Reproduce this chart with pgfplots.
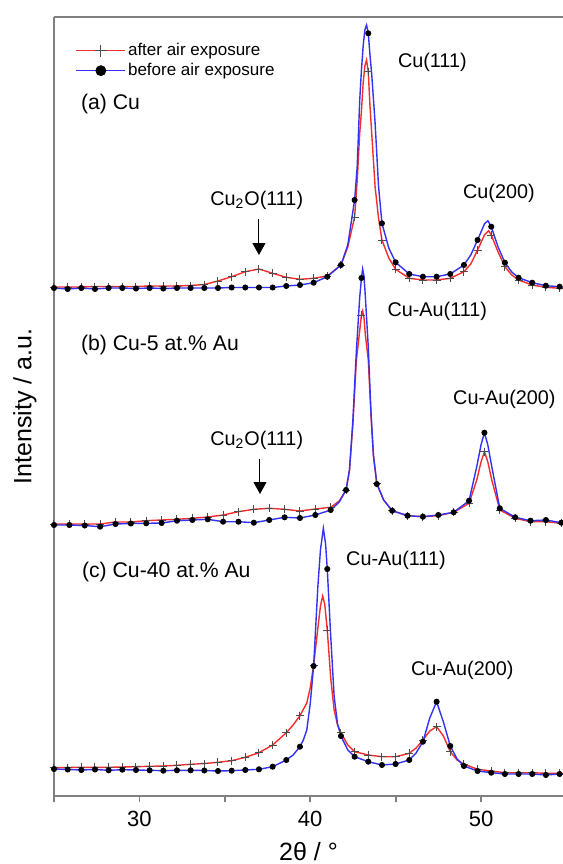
\documentclass[border=0pt]{standalone}
\usepackage{fontspec}
\setmainfont{Liberation Sans}
\usepackage{pgfplots}
\pgfplotsset{compat=1.18}
\usepackage{pgfplotstable}
\usetikzlibrary{arrows.meta}

\definecolor{cRed}{RGB}{245,45,45}
\definecolor{cBlue}{RGB}{50,50,245}
\definecolor{cAxis}{RGB}{128,128,128}

% (a) Cu, marks every 0.8 deg
\pgfplotstableread{
x y m
25.0 509 1
25.8 509 1
26.6 509 1
27.4 509.5 1
28.2 509.5 1
29.0 509.5 1
29.8 509.5 1
30.6 510 1
31.4 510 1
32.2 510 1
33.0 510.5 1
33.8 511.5 1
34.6 515 1
35.4 519.3 1
36.2 524.3 1
37.0 527 1
37.8 522.7 1
38.6 518.7 1
39.4 516.7 1
40.2 517.7 1
41.0 520 1
41.8 531 1
42.2 549 0
42.6 579 1
42.75 615 0
42.9 663 0
43.0 685 0
43.1 713 0
43.2 730 0
43.3 736 0
43.4 724 1
43.5 690 0
43.6 663 0
43.8 609 0
44.0 578 0
44.2 556 1
44.6 538 0
45.0 526.7 1
45.8 517.7 1
46.6 516 1
47.4 516 1
48.2 517.7 1
49.0 524.3 1
49.4 532 0
49.8 546 1
50.2 561 0
50.45 565.3 0
50.6 561 1
51.0 544 0
51.4 529.3 1
51.8 521 0
52.2 516 1
53.0 511 1
53.8 508.7 1
54.6 507.7 1
54.8 507.7 0
}\redA
\pgfplotstableread{
x y m
25.0 508 1
25.8 507 1
26.6 508 1
27.4 507 1
28.2 508 1
29.0 508 1
29.8 507.5 1
30.6 508 1
31.4 507.5 1
32.2 508 1
33.0 508 1
33.8 508 1
34.6 508 1
35.4 508.5 1
36.2 508.5 1
37.0 508.5 1
37.8 508.5 1
38.6 510 1
39.4 511 1
40.2 513.3 1
41.0 519.3 1
41.8 531 1
42.2 551 0
42.6 596 1
42.75 629 0
42.9 696 0
43.0 726 0
43.1 750 0
43.2 766 0
43.3 771 0
43.4 762.7 1
43.5 741 0
43.6 722 0
43.8 673 0
44.0 610 0
44.2 572.7 1
44.6 548 0
45.0 533.7 1
45.8 522 1
46.6 519.3 1
47.4 519.3 1
48.2 522 1
49.0 531 1
49.4 541 0
49.8 556 1
50.2 572 0
50.4 575.3 0
50.6 569.3 1
51.0 549 0
51.4 533.3 1
51.8 524 0
52.2 518.3 1
53.0 513.3 1
53.8 510.3 1
54.6 509.3 1
54.8 509 0
}\blueA

% (b) Cu-5 at.% Au, marks every 0.9 deg
\pgfplotstableread{
x y m
25.0 272 1
25.9 272 1
26.8 272 1
27.7 272 1
28.6 274 1
29.5 274 1
30.4 275.3 1
31.3 276 1
32.2 276.7 1
33.1 277.7 1
34.0 279 1
34.9 281 1
35.8 284.3 1
36.7 286.7 1
37.6 287.7 1
38.5 286.7 1
39.4 285 1
40.3 287 1
41.2 288.7 1
41.7 295 0
42.1 306 1
42.3 326 0
42.5 372 0
42.7 435 0
42.9 466 0
43.0 481 1
43.07 485 0
43.15 478 0
43.23 461 0
43.4 436 0
43.56 381 0
43.7 341 0
43.9 312.7 1
44.3 296 0
44.8 285.3 1
45.7 280.3 1
46.6 279.3 1
47.5 280.3 1
48.4 283.7 1
49.3 292.7 1
49.75 316 0
50.0 334 0
50.2 344.3 1
50.4 334 0
50.63 316 0
51.1 286 1
52.0 277.7 1
52.9 274.3 1
53.8 274.3 1
54.7 272.7 1
54.8 272.7 0
}\redB
\pgfplotstableread{
x y m
25.0 271 1
25.9 271 1
26.8 270.5 1
27.7 269.3 1
28.6 272 1
29.5 272.5 1
30.4 272.7 1
31.3 273 1
32.2 275.3 1
33.1 276 1
34.0 276.7 1
34.9 274.3 1
35.8 274.3 1
36.7 273.3 1
37.6 276 1
38.5 278.7 1
39.4 278 1
40.3 281 1
41.2 286 1
41.7 294 0
42.1 306 1
42.3 326 0
42.5 376 0
42.7 444 0
42.9 499 0
43.0 518 1
43.07 527 0
43.15 520 0
43.23 499 0
43.4 449 0
43.56 383 0
43.7 341 0
43.9 312 1
44.3 296 0
44.8 285.3 1
45.7 280.3 1
46.6 279.3 1
47.5 281 1
48.4 283.7 1
49.3 295.3 1
49.75 329.3 0
50.0 351 0
50.2 363.3 1
50.4 351 0
50.63 329.3 0
51.1 287.7 1
52.0 278.7 1
52.9 275.3 1
53.8 276 1
54.7 273.3 1
54.8 273.3 0
}\blueB

% (c) Cu-40 at.% Au, marks every 0.8 deg
\pgfplotstableread{
x y m
25.0 28.3 1
25.8 28.5 1
26.6 28.7 1
27.4 28.7 1
28.2 28.7 1
29.0 29 1
29.8 29.3 1
30.6 29.7 1
31.4 30 1
32.2 30.7 1
33.0 31.7 1
33.8 32.5 1
34.6 33.7 1
35.4 35.3 1
36.2 38.7 1
37.0 43.3 1
37.8 51 1
38.6 63.3 1
39.0 71 0
39.4 80.3 1
39.8 93 0
40.0 108 0
40.2 131 1
40.45 168 0
40.6 190 0
40.73 200 0
40.85 192 0
41.0 166 1
41.2 118 0
41.4 86 0
41.6 71 0
41.8 63.3 1
42.2 51 0
42.6 44.3 1
43.4 41 1
44.2 39.3 1
45.0 39.3 1
45.8 42.7 1
46.2 48 0
46.6 56 1
47.0 65 0
47.4 69.3 1
47.8 60 0
48.2 44.3 1
48.6 36 0
49.0 32 1
49.8 26.7 1
50.6 25 1
51.4 23.3 1
52.2 23.3 1
53.0 23.3 1
53.8 22.7 1
54.6 22.7 1
54.8 22.7 0
}\redC
\pgfplotstableread{
x y m
25.0 27 1
25.8 26.5 1
26.6 26 1
27.4 26.5 1
28.2 25.7 1
29.0 26.3 1
29.8 26 1
30.6 25.7 1
31.4 25.3 1
32.2 25.7 1
33.0 25.7 1
33.8 25.5 1
34.6 25 1
35.4 25.3 1
36.2 26 1
37.0 26.7 1
37.8 29.3 1
38.6 36 1
39.0 41 0
39.4 49.3 1
39.6 56 0
39.8 66 0
40.0 92 0
40.2 130 1
40.45 210 0
40.6 246 0
40.77 267.7 0
40.9 252 0
41.0 227 1
41.2 160 0
41.4 100 0
41.6 72 0
41.8 60 1
42.2 46 0
42.6 39.3 1
43.4 34.3 1
44.2 31 1
45.0 32 1
45.8 36 1
46.2 43 0
46.6 54.3 1
47.0 78 0
47.4 94.3 1
47.8 74 0
48.2 50 1
48.6 37 0
49.0 30 1
49.8 25 1
50.6 23.3 1
51.4 22 1
52.2 22 1
53.0 22 1
53.8 21 1
54.6 22 1
54.8 22 0
}\blueC

\pgfplotsset{
  afterline/.style={cRed, line width=0.7pt, forget plot},
  beforeline/.style={cBlue, line width=0.7pt, forget plot},
  aftermarks/.style={only marks, mark=+, mark size=2pt, black!70, mark options={line width=0.5pt}, forget plot},
  beforemarks/.style={only marks, mark=*, mark size=1.3pt, black, forget plot},
}

\begin{document}
\begin{tikzpicture}
\begin{axis}[
    scale only axis,
    width=254.5pt, height=389.5pt,
    xmin=25, xmax=54.8,
    ymin=0, ymax=779,
    separate axis lines,
    axis x line=box,
    axis y line=left,
    axis line style={cAxis, line width=0.9pt, -},
    ytick=\empty,
    xtick={30,40,50},
    minor xtick={25,35,45},
    xtick pos=bottom,
    tick align=outside,
    major tick length=3pt,
    minor tick length=3pt,
    tick style={cAxis, line width=0.9pt},
    /pgf/number format/assume math mode=true,
    xticklabel style={font=\fontsize{11}{13}\selectfont, yshift=-1pt},
    xlabel={2θ / °},
    ylabel={Intensity / a.u.},
    every axis x label/.style={at={(axis description cs:0.5,-0.0719)}, anchor=center, font=\fontsize{12.5}{15}\selectfont},
    every axis y label/.style={at={(axis description cs:-0.057,0.5)}, anchor=center, rotate=90, font=\fontsize{12.5}{15}\selectfont},
    legend style={draw=none, fill=none, at={(axis description cs:0.03,0.975)}, anchor=north west,
        font=\fontsize{8.5}{10}\selectfont, nodes={inner sep=1pt}, row sep=0.4pt,
        /tikz/every even column/.append style={column sep=1pt}},
    legend cell align=left,
    clip=false,
]
\addlegendimage{legend image code/.code={
    \draw[cRed, line width=0.7pt] (0pt,0pt) -- (24.5pt,0pt);
    \draw[black!70, line width=0.5pt] plot[mark=+, mark size=3pt] coordinates {(12.25pt,0pt)};}}
\addlegendentry{after air exposure}
\addlegendimage{legend image code/.code={
    \draw[cBlue, line width=0.7pt] (0pt,0pt) -- (24.5pt,0pt);
    \fill[black] plot[mark=*, mark size=2.5pt] coordinates {(12.25pt,0pt)};}}
\addlegendentry{before air exposure}

\addplot[afterline] table[x=x, y=y] {\redA};
\addplot[beforeline] table[x=x, y=y] {\blueA};
\addplot[afterline] table[x=x, y=y] {\redB};
\addplot[beforeline] table[x=x, y=y] {\blueB};
\addplot[afterline] table[x=x, y=y] {\redC};
\addplot[beforeline] table[x=x, y=y] {\blueC};

\addplot[aftermarks, restrict expr to domain={\thisrow{m}}{0.5:1.5}] table[x=x, y=y] {\redA};
\addplot[beforemarks, restrict expr to domain={\thisrow{m}}{0.5:1.5}] table[x=x, y=y] {\blueA};
\addplot[aftermarks, restrict expr to domain={\thisrow{m}}{0.5:1.5}] table[x=x, y=y] {\redB};
\addplot[beforemarks, restrict expr to domain={\thisrow{m}}{0.5:1.5}] table[x=x, y=y] {\blueB};
\addplot[aftermarks, restrict expr to domain={\thisrow{m}}{0.5:1.5}] table[x=x, y=y] {\redC};
\addplot[beforemarks, restrict expr to domain={\thisrow{m}}{0.5:1.5}] table[x=x, y=y] {\blueC};

% panel labels
\node[anchor=west, font=\fontsize{10.6}{12}\selectfont] at (axis cs:26.17,692) {(a) Cu};
\node[anchor=west, font=\fontsize{10.6}{12}\selectfont] at (axis cs:26.17,451) {(b) Cu-5 at.\% Au};
\node[anchor=west, font=\fontsize{10.6}{12}\selectfont] at (axis cs:26.23,224) {(c) Cu-40 at.\% Au};

% peak labels
\begin{scope}[every node/.style={font=\fontsize{9.9}{12}\selectfont}]
\node at (axis cs:47.15,734) {Cu(111)};
\node at (axis cs:51.05,603) {Cu(200)};
\node at (axis cs:36.87,596) {Cu\textsubscript{2}O(111)};
\node at (axis cs:47.44,485) {Cu-Au(111)};
\node at (axis cs:51.37,397) {Cu-Au(200)};
\node at (axis cs:36.87,356) {Cu\textsubscript{2}O(111)};
\node at (axis cs:45.02,236) {Cu-Au(111)};
\node at (axis cs:48.90,126) {Cu-Au(200)};
\end{scope}
\draw[black, line width=0.5pt, -{Triangle[width=6.5pt,length=6pt]}] (axis cs:37.0,577) -- (axis cs:37.0,541);
\draw[black, line width=0.5pt, -{Triangle[width=6.5pt,length=6pt]}] (axis cs:37.06,337) -- (axis cs:37.06,302);
\end{axis}
\pgfresetboundingbox
\path (-27pt,-34pt) rectangle (254.5pt,398pt);
\end{tikzpicture}
\end{document}
